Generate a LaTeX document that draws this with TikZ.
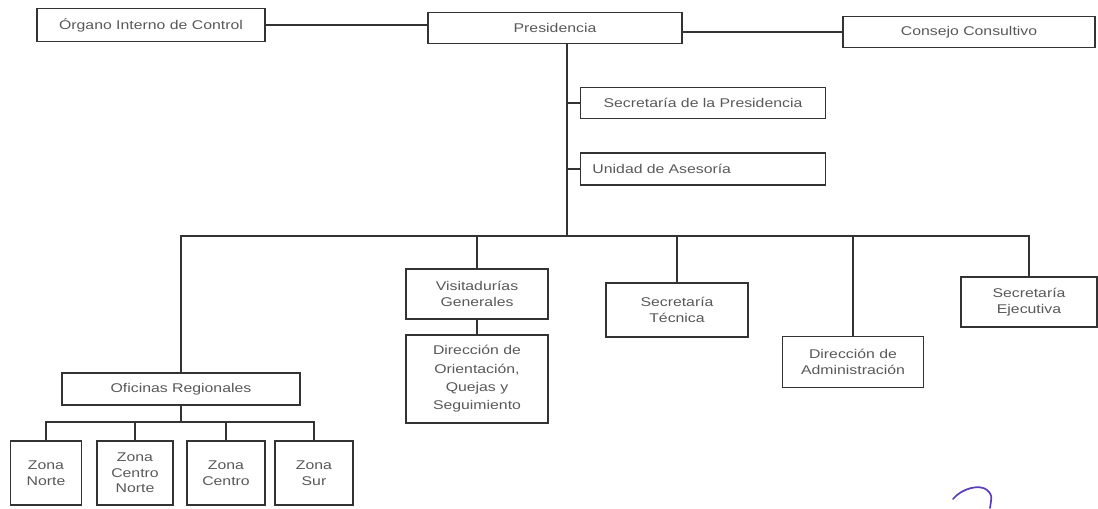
\documentclass[tikz,border=0pt]{standalone}
\usepackage{fontspec}
\newfontfamily\orgfont[FakeStretch=1.25]{Liberation Sans}
\usepackage{tikz}
\usetikzlibrary{positioning}

\begin{document}
\begin{tikzpicture}[x = 0.025cm, y = -0.025cm, line width = 1pt,
                    draw = black!80,
                    unit/.style = {rectangle,
                                   draw = black!80,
                                   fill = white,
                                   text = black!65,
                                   font = \orgfont\fontsize{9}{11}\selectfont,
                                   align = center,
                                   inner sep = 2pt},
                    wide/.style  = {unit,
                                    minimum height = 0.8 cm},
                    dept/.style  = {unit,
                                    minimum width = 3.55 cm,
                                    minimum height = 1.25 cm},
                    zone/.style  = {unit,
                                    minimum height = 1.6 cm}]

\useasboundingbox (0,0) rectangle (1098,508);

\node[wide, minimum width = 5.7 cm, minimum height = 0.825 cm] (oic) at (151,25) {Órgano Interno de Control};
\node[wide, minimum width = 6.35 cm, minimum height = 0.775 cm] (pres) at (555,28) {Presidencia};
\node[wide, minimum width = 6.3 cm, minimum height = 0.775 cm] (cons) at (969,32) {Consejo Consultivo};

\node[wide, minimum width = 6.125 cm, minimum height = 0.775 cm] (secp) at (703,103) {Secretaría de la Presidencia};
\node[wide, minimum width = 6.125 cm, inner xsep = 0.3 cm, text width = 5.525 cm, align = left] (unid) at (703,169) {Unidad de Asesoría};

\coordinate (bus) at (567,236);

\node[dept] (visit) at (477,294) {Visitadurías\\Generales};
\node[dept, minimum height = 2.2 cm] (orient) at (477,379) {Dirección de\\[2pt]Orientación,\\[2pt]Quejas y\\[2pt]Seguimiento};
\node[dept, minimum height = 1.35 cm] (stec) at (677,310) {Secretaría\\Técnica};
\node[dept, minimum width = 3.525 cm, minimum height = 1.275 cm] (dadm) at (853,362) {Dirección de\\Administración};
\node[dept, minimum width = 3.4 cm] (sejec) at (1029,302) {Secretaría\\Ejecutiva};

\node[wide, minimum width = 5.95 cm] (ofic) at (181,389) {Oficinas Regionales};

\coordinate (zbus) at (181,422);

\node[zone, minimum width = 1.775 cm] (znorte) at (46,473) {Zona\\Norte};
\node[zone, minimum width = 1.9 cm] (zcnorte) at (135,473) {Zona\\Centro\\Norte};
\node[zone, minimum width = 1.95 cm] (zcentro) at (226,473) {Zona\\Centro};
\node[zone, minimum width = 1.95 cm] (zsur) at (314,473) {Zona\\Sur};

\draw (oic.east) -- (oic.east -| pres.west);
\draw (cons.west -| pres.east) -- (cons.west);

\draw (pres.south -| bus) -- (bus);
\draw (secp.west -| bus) -- (secp.west);
\draw (unid.west -| bus) -- (unid.west);

\draw (ofic.north) |- (bus) -| (sejec.north);
\draw (visit.north |- bus) -- (visit.north);
\draw (stec.north |- bus) -- (stec.north);
\draw (dadm.north |- bus) -- (dadm.north);
\draw (visit.south) -- (orient.north);

\draw (ofic.south) -- (zbus);
\draw (znorte.north) |- (zbus) -| (zsur.north);
\draw (zcnorte.north |- zbus) -- (zcnorte.north);
\draw (zcentro.north |- zbus) -- (zcentro.north);

\draw[draw = {rgb,255:red,90;green,60;blue,190}, line width = 1.2pt, line cap = round]
  (953,499) .. controls (962,488) and (980,484) .. (987,490) .. controls (992,495) .. (990,508);

\end{tikzpicture}
\end{document}
